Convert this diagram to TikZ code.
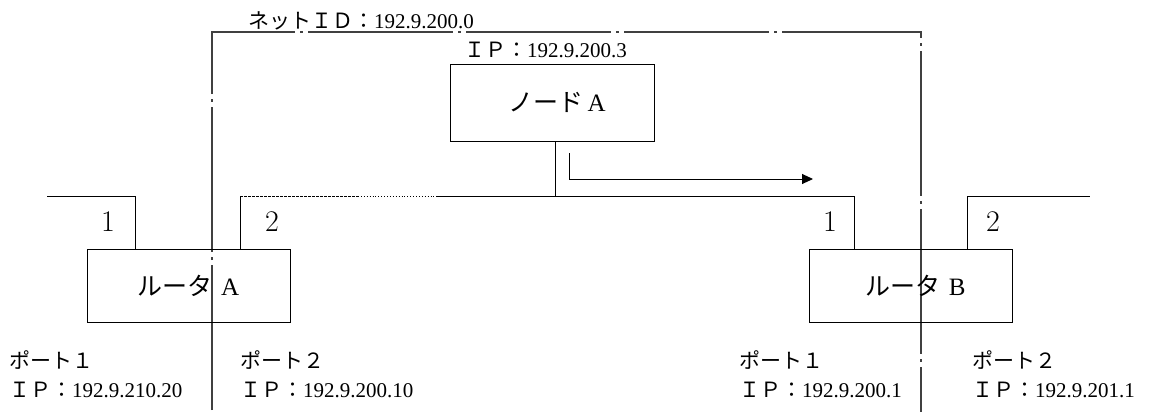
\documentclass[tikz,border=0pt]{standalone}
\usepackage{fontspec}
\setmainfont{Liberation Serif}
\newfontfamily\jp{Noto Sans CJK JP}
\newfontfamily\lmr{Latin Modern Roman}
\usetikzlibrary{arrows.meta}
\begin{document}
\begin{tikzpicture}[x=1pt,y=-1pt,
  box/.style={draw, line width=0.9pt, inner sep=0pt},
  wire/.style={line width=0.9pt},
  netline/.style={draw=black!75, line width=1.4pt, dash pattern=on 145pt off 5pt on 3pt off 5pt},
  small/.style={font=\fontsize{21}{23}\selectfont, inner sep=0pt},
  big/.style={font=\fontsize{25}{28}\selectfont},
  portnum/.style={font=\lmr\fontsize{30}{32}\selectfont, inner sep=0pt}]
\useasboundingbox (0,0) rectangle (1156,418);

% network boundary
\coordinate (nl1) at (212,410);
\coordinate (nl2) at (212,32);
\coordinate (nl3) at (921,32);
\coordinate (nl4) at (921,412);
\draw[netline] (nl1) -- (nl2) -- (nl3) -- (nl4);
\node[small, anchor=base west] (netid) at (248,28) {{\jp ネットＩＤ：}192.9.200.0};

% node A
\node[box, big, minimum width=204pt, minimum height=77pt] (nodeA) at (552,102.5) {\hspace{10pt}{\jp ノード}\,A};
\node[small, anchor=base west] (ipA) at (464,57) {{\jp ＩＰ：}192.9.200.3};

% routers
\node[box, big, minimum width=203pt, minimum height=73pt] (routerA) at (188.5,285.5) {{\jp ルータ}\,\,A};
\node[box, big, minimum width=203pt, minimum height=73pt] (routerB) at (910.5,285.5) {\hspace{10pt}{\jp ルータ}\,\,B};

% router A ports
\coordinate (a1e) at (47,196);
\coordinate (a1c) at (135,196);
\coordinate (a1b) at (135,249);
\draw[wire] (a1e) -- (a1c) -- (a1b);
\coordinate (a2b) at (240,249);
\coordinate (a2c) at (240,196);
\coordinate (s1) at (358,196);
\coordinate (s2) at (437,196);
\coordinate (b1c) at (854,196);
\coordinate (b1b) at (854,249);
\draw[wire] (a2b) -- (a2c);
\draw[wire, dash pattern=on 3pt off 1pt] (a2c) -- (s1);
\draw[wire, dotted] (s1) -- (s2);
\draw[wire] (s2) -- (b1c) -- (b1b);

% router B port 2
\coordinate (b2b) at (967,249);
\coordinate (b2c) at (967,196);
\coordinate (b2e) at (1090,196);
\draw[wire] (b2b) -- (b2c) -- (b2e);

% node A drop
\coordinate (dropT) at (555,141);
\coordinate (dropB) at (555,196);
\draw[wire] (dropT) -- (dropB);

% arrow
\coordinate (arS) at (569,153);
\coordinate (arE) at (813,179);
\draw[wire, -{Triangle[length=11pt,width=10pt]}] (arS) |- (arE);

% port numbers
\node[portnum] (pa1) at (108,222) {1};
\node[portnum] (pa2) at (272,222) {2};
\node[portnum] (pb1) at (830,222) {1};
\node[portnum] (pb2) at (993,222) {2};

% bottom labels
\node[small, anchor=base west] (lA1a) at (9,368) {\jp ポート１};
\node[small, anchor=base west] (lA1b) at (9,397) {{\jp ＩＰ：}192.9.210.20};
\node[small, anchor=base west] (lA2a) at (240,368) {\jp ポート２};
\node[small, anchor=base west] (lA2b) at (240,397) {{\jp ＩＰ：}192.9.200.10};
\node[small, anchor=base west] (lB1a) at (739,368) {\jp ポート１};
\node[small, anchor=base west] (lB1b) at (739,397) {{\jp ＩＰ：}192.9.200.1};
\node[small, anchor=base west] (lB2a) at (972,368) {\jp ポート２};
\node[small, anchor=base west] (lB2b) at (972,397) {{\jp ＩＰ：}192.9.201.1};
\end{tikzpicture}
\end{document}
